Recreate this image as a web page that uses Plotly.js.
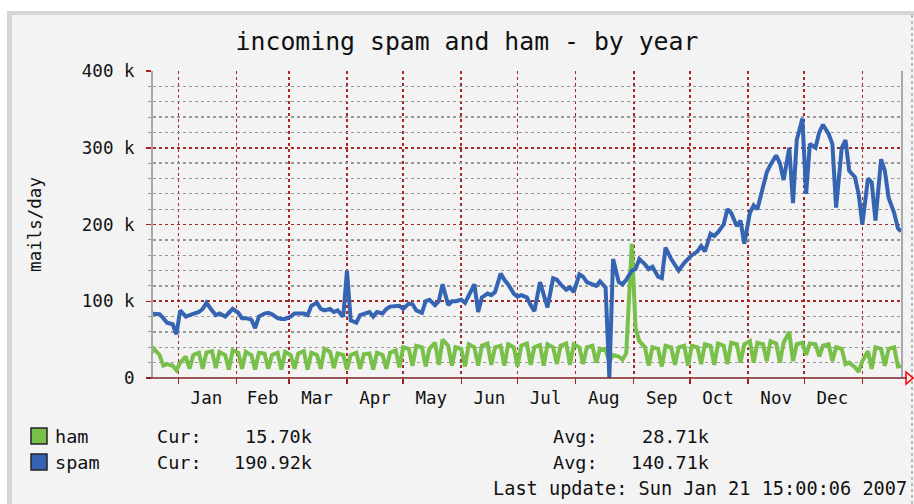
<!DOCTYPE html>
<html>
<head>
<meta charset="utf-8">
<script src="https://cdn.plot.ly/plotly-3.0.1.min.js"></script>
<style>html,body{margin:0;padding:0;background:#fff;}#chart{width:914px;height:504px;}</style>
</head>
<body>
<div id="chart"></div>
<script>
// ---- data (values in thousands of mails/day) ----
// samples: one leading Saturday, then Mon / Thu / Sat of each week from Mon 2005-12-19, then the last update
const firstSample = '2005-12-17';
const firstMonday = '2005-12-19';
const weekdayOffsets = [0, 3, 5];
const weekCount = 57;
const lastSample = '2007-01-21 15:00';

const hamK = [30,
  38,30,16, 18,16,10, 20,28,12, 30,33,12, 33,35,13, 34,30,11, 36,33,12, 34,30,11,
  33,32,12, 30,33,11, 34,30,12, 32,35,11, 33,30,12, 38,34,13, 32,30,11, 30,33,12,
  31,32,11, 33,30,12, 33,36,14, 40,38,16, 42,40,15, 38,46,17, 50,42,16, 40,38,15,
  44,40,16, 42,45,17, 40,42,16, 44,40,15, 42,45,17, 40,43,16, 44,40,18, 42,45,17,
  44,40,18, 40,42,20, 38,36,22, 30,28,24, 32,175,65, 48,40,16, 40,38,15, 42,40,17,
  40,42,16, 42,40,18, 44,42,17, 45,42,18, 46,44,20, 44,48,20, 46,44,22, 48,45,20,
  46,60,22, 44,46,30, 45,44,28, 42,44,22, 40,38,18, 20,14,8, 22,35,12, 40,38,16,
  38,40,15,
  15.70];

const spamK = [84,
  84,83,78, 72,70,57, 88,80,82, 84,86,90, 98,88,82, 84,80,85, 90,85,78, 78,76,65,
  80,84,85, 83,78,77, 77,80,84, 84,84,82, 94,98,90, 88,90,86, 88,80,140, 75,72,82,
  84,86,80, 86,84,90, 93,94,94, 90,97,96, 88,85,100, 102,95,100, 122,95,100, 100,102,98,
  108,122,86, 105,110,108, 112,136,128, 122,110,106, 108,105,95, 87,125,110, 92,130,128, 122,115,118,
  112,135,132, 125,122,120, 126,118,0, 155,125,122, 128,140,142, 155,148,142, 145,132,130, 170,155,148,
  140,150,155, 160,165,172, 165,188,185, 190,200,220, 215,198,205, 175,215,225, 220,250,268, 278,290,280,
  258,300,228, 310,338,240, 305,300,320, 330,318,305, 222,300,310, 270,262,240, 200,260,255, 205,285,270,
  235,215,195,
  190.92];

const monthNames = ['Jan','Feb','Mar','Apr','May','Jun','Jul','Aug','Sep','Oct','Nov','Dec'];
const monthLabelDates = ['2006-01-16','2006-02-15','2006-03-16','2006-04-16','2006-05-16','2006-06-16',
  '2006-07-16','2006-08-16','2006-09-16','2006-10-16','2006-11-16','2006-12-16'];
const monthStarts = ['2006-01-01','2006-02-01','2006-03-01','2006-04-01','2006-05-01','2006-06-01',
  '2006-07-01','2006-08-01','2006-09-01','2006-10-01','2006-11-01','2006-12-01','2007-01-01'];
const yTickVals = [0, 100, 200, 300, 400];
const yTickText = ['0', '100 k', '200 k', '300 k', '400 k'];

const seriesNames = ['ham', 'spam'];
const seriesColors = ['#78c04a', '#3464b2'];
const curText = ['15.70k', '190.92k'];
const avgText = ['28.71k', '140.71k'];
const lastUpdate = 'Last update: Sun Jan 21 15:00:06 2007';

// ---- sample times ----
const sampleDates = [firstSample];
const mon0 = Date.parse(firstMonday + 'T00:00:00Z');
for (let w = 0; w < weekCount; w++) {
  for (const d of weekdayOffsets) {
    sampleDates.push(new Date(mon0 + (w * 7 + d) * 86400000).toISOString().slice(0, 10));
  }
}
sampleDates.push(lastSample);

// ---- geometry helpers (plot area in pixels) ----
const W = 914, H = 504;
const L = 153, R = 901, T = 71, B = 378;
const px2x = p => (p - L) / (R - L);
const px2y = p => (B - p) / (B - T);

const mono = 'DejaVu Sans Mono, monospace';

const traces = [
  {x: sampleDates, y: hamK, name: seriesNames[0], type: 'scatter', mode: 'lines',
   line: {color: seriesColors[0], width: 4, shape: 'linear'}},
  {x: sampleDates, y: spamK, name: seriesNames[1], type: 'scatter', mode: 'lines',
   line: {color: seriesColors[1], width: 4, shape: 'linear'}}
];

const ann = [];
const shapes = [];
// frame
shapes.push({type:'rect', xref:'paper', yref:'paper', layer:'below',
  x0: px2x(7), x1: px2x(930), y0: px2y(11), y1: px2y(520), fillcolor:'#d5d5d5', line:{width:0}});
shapes.push({type:'rect', xref:'paper', yref:'paper', layer:'below',
  x0: px2x(12), x1: px2x(930), y0: px2y(15), y1: px2y(520), fillcolor:'#f3f3f3', line:{width:0}});
shapes.push({type:'line', xref:'paper', yref:'paper', layer:'below',
  x0: px2x(912), x1: px2x(912), y0: px2y(15), y1: px2y(504), line:{color:'#b8b8b8', width:2, dash:'dot'}});
// bottom axis with arrow
shapes.push({type:'line', xref:'paper', yref:'paper',
  x0: px2x(146), x1: px2x(907), y0: px2y(378), y1: px2y(378), line:{color:'#7d2424', width:1.6}});
shapes.push({type:'path', xref:'paper', yref:'paper',
  path: 'M ' + px2x(906) + ' ' + px2y(372) + ' L ' + px2x(913) + ' ' + px2y(378) + ' L ' + px2x(906) + ' ' + px2y(384) + ' Z',
  line:{color:'#ff0000', width:1.5}, fillcolor:'rgba(0,0,0,0)'});

// legend
const rowsY = [436, 462];
const lf = {family: mono, size: 18.5, color: '#111'};
for (let i = 0; i < 2; i++) {
  const cy = rowsY[i];
  shapes.push({type:'rect', xref:'paper', yref:'paper',
    x0: px2x(31), x1: px2x(47), y0: px2y(cy - 8), y1: px2y(cy + 8),
    fillcolor: seriesColors[i], line:{color:'#222', width:1.5}});
  ann.push({xref:'paper', yref:'paper', x: px2x(53), y: px2y(cy), xanchor:'left', yanchor:'middle', text: seriesNames[i], showarrow:false, font:lf});
  ann.push({xref:'paper', yref:'paper', x: px2x(155), y: px2y(cy), xanchor:'left', yanchor:'middle', text: 'Cur:', showarrow:false, font:lf});
  ann.push({xref:'paper', yref:'paper', x: px2x(314), y: px2y(cy), xanchor:'right', yanchor:'middle', text: curText[i], showarrow:false, font:lf});
  ann.push({xref:'paper', yref:'paper', x: px2x(551), y: px2y(cy), xanchor:'left', yanchor:'middle', text: 'Avg:', showarrow:false, font:lf});
  ann.push({xref:'paper', yref:'paper', x: px2x(711), y: px2y(cy), xanchor:'right', yanchor:'middle', text: avgText[i], showarrow:false, font:lf});
}
ann.push({xref:'paper', yref:'paper', x: px2x(909), y: px2y(488), xanchor:'right', yanchor:'middle', text: lastUpdate, showarrow:false,
  font:{family: mono, size: 18.6, color:'#111'}});

const layout = {
  width: W, height: H,
  margin: {l: L, r: W - R, t: T, b: H - B, pad: 0},
  paper_bgcolor: '#ffffff',
  plot_bgcolor: '#ffffff',
  showlegend: false,
  title: {text: 'incoming spam and ham - by year', font: {family: mono, size: 24.8, color: '#111'},
    xref: 'container', yref: 'container', x: 467 / W, xanchor: 'center', y: 1 - 41 / H, yanchor: 'middle'},
  xaxis: {
    type: 'date', range: ['2005-12-18 12:00', '2007-01-21 15:00'],
    tickmode: 'array', tickvals: monthLabelDates, ticktext: monthNames,
    ticks: '', showgrid: false, zeroline: false, showline: false,
    ticklabelstandoff: 7,
    tickfont: {family: mono, size: 17.5, color: '#111'},
    minor: {tickmode: 'array', tickvals: monthStarts, showgrid: true, gridcolor: '#a82828', griddash: 'dot', gridwidth: 1.6,
      ticks: 'outside', ticklen: 5, tickcolor: '#a02020', tickwidth: 1.5}
  },
  yaxis: {
    range: [0, 400], tickmode: 'array', tickvals: yTickVals, ticktext: yTickText,
    showgrid: true, gridcolor: '#a82828', griddash: 'dot', gridwidth: 1.6,
    zeroline: false, showline: true, linecolor: '#a9a9a9', linewidth: 2, mirror: true,
    ticks: 'outside', ticklen: 5, tickcolor: '#b02020', tickwidth: 1.5,
    ticklabelstandoff: 8,
    tickfont: {family: mono, size: 17.5, color: '#111'},
    minor: {dtick: 20, showgrid: true, gridcolor: '#999999', griddash: 'dot', gridwidth: 1.3,
      ticks: 'outside', ticklen: 3, tickcolor: '#999', tickwidth: 1},
    title: {text: 'mails/day', font: {family: mono, size: 17.5, color: '#111'}, standoff: 36}
  },
  annotations: ann,
  shapes: shapes
};

Plotly.newPlot('chart', traces, layout, {displayModeBar: false, staticPlot: true});
</script>
</body>
</html>
